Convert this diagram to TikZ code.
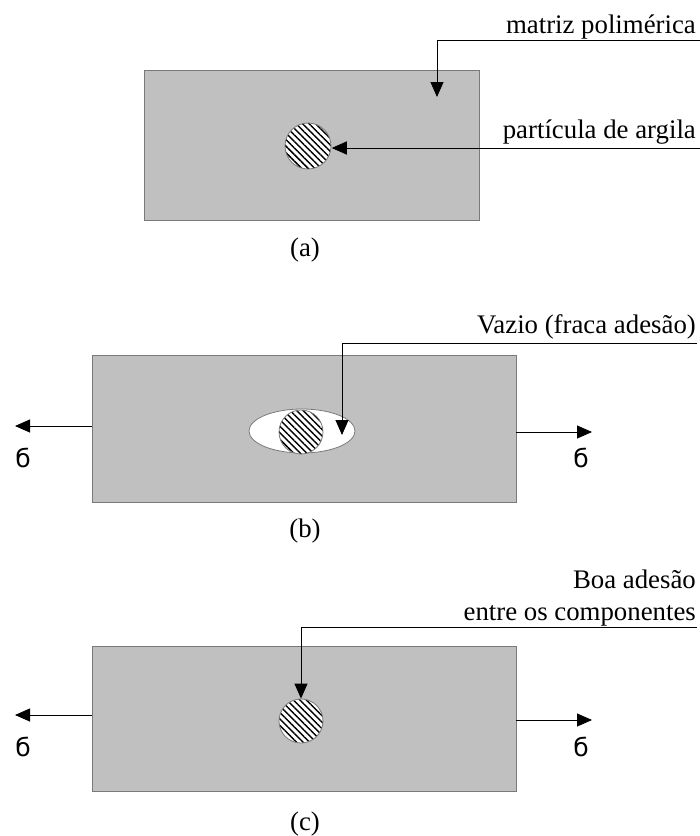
\documentclass[tikz,border=0pt]{standalone}
\usepackage{fontspec}
\setmainfont{Liberation Serif}
\newfontfamily\sigfont{DejaVu Sans}
\usetikzlibrary{arrows.meta,patterns.meta,shapes.geometric}
\definecolor{matrixgray}{HTML}{C0C0C0}
\definecolor{edgegray}{HTML}{7A7A7A}
\tikzset{
  matrixbox/.style={fill=matrixgray,draw=edgegray,line width=1.4pt},
  particle/.style={circle,draw=edgegray,line width=0.8pt,minimum size=#1,inner sep=0pt,
    preaction={fill=white},pattern={Lines[angle=-45,distance=4.6pt,line width=1.5pt]},pattern color=black},
  particle/.default=46pt,
  voidshape/.style={ellipse,draw=edgegray,line width=0.8pt,fill=white,minimum width=106pt,minimum height=44pt,inner sep=0pt},
  lbl/.style={font=\fontsize{26.8}{32}\selectfont,inner sep=0pt},
  sig/.style={font=\sigfont\fontsize{25}{30}\selectfont,inner sep=0pt},
  pointer/.style={line width=0.9pt,-{Triangle[length=15pt,width=13pt]}},
  force/.style={line width=0.9pt,-{Triangle[length=15pt,width=13pt]}},
}
\begin{document}
\begin{tikzpicture}[x=1pt,y=-1pt]
\useasboundingbox (0,0) rectangle (700,836);
% ---------- (a)
\node[matrixbox,minimum width=335pt,minimum height=150pt,inner sep=0pt,anchor=north west] (ma) at (144,70) {};
\node[particle] (pa) at (308,146) {};
\node[lbl,anchor=base east] (ta1) at (696,33) {matriz polimérica};
\node[lbl,anchor=base east] (ta2) at (696,138) {partícula de argila};
\coordinate (ea1) at (700,40);
\coordinate (ka1) at (437,97);
\coordinate (ea2) at (700,148);
\draw[pointer] (ea1) -| (ka1);
\draw[pointer] (ea2) -- (pa.east |- ea2);
\node[lbl,anchor=base] (ca) at (305,256) {(a)};
% ---------- (b)
\node[matrixbox,minimum width=424pt,minimum height=147pt,inner sep=0pt,anchor=north west] (mb) at (92,355) {};
\node[voidshape] (vb) at (302,431) {};
\node[particle=44pt] (pb) at (301,432) {};
\node[lbl,anchor=base east] (tb) at (696,333) {Vazio (fraca adesão)};
\coordinate (eb) at (697,343);
\coordinate (kb) at (342,435);
\draw[pointer] (eb) -| (kb);
\coordinate (lb) at (92,426);
\coordinate (lbt) at (15,426);
\coordinate (rb) at (516,432);
\coordinate (rbt) at (592,432);
\draw[force] (lb) -- (lbt);
\draw[force] (rb) -- (rbt);
\node[sig,anchor=base] (slb) at (23,467) {б};
\node[sig,anchor=base] (srb) at (581,467) {б};
\node[lbl,anchor=base] (cb) at (305,537) {(b)};
% ---------- (c)
\node[matrixbox,minimum width=424pt,minimum height=145pt,inner sep=0pt,anchor=north west] (mc) at (92,646) {};
\node[particle=44pt] (pc) at (301,721) {};
\node[lbl,anchor=base east] (tc1) at (696,588) {Boa adesão};
\node[lbl,anchor=base east] (tc2) at (696,620) {entre os componentes};
\coordinate (ec) at (697,627);
\draw[pointer] (ec) -| (pc.north);
\coordinate (lc) at (92,715);
\coordinate (lct) at (15,715);
\coordinate (rc) at (516,720);
\coordinate (rct) at (592,720);
\draw[force] (lc) -- (lct);
\draw[force] (rc) -- (rct);
\node[sig,anchor=base] (slc) at (23,756) {б};
\node[sig,anchor=base] (src) at (581,756) {б};
\node[lbl,anchor=base] (cc) at (305,830) {(c)};
\end{tikzpicture}
\end{document}
